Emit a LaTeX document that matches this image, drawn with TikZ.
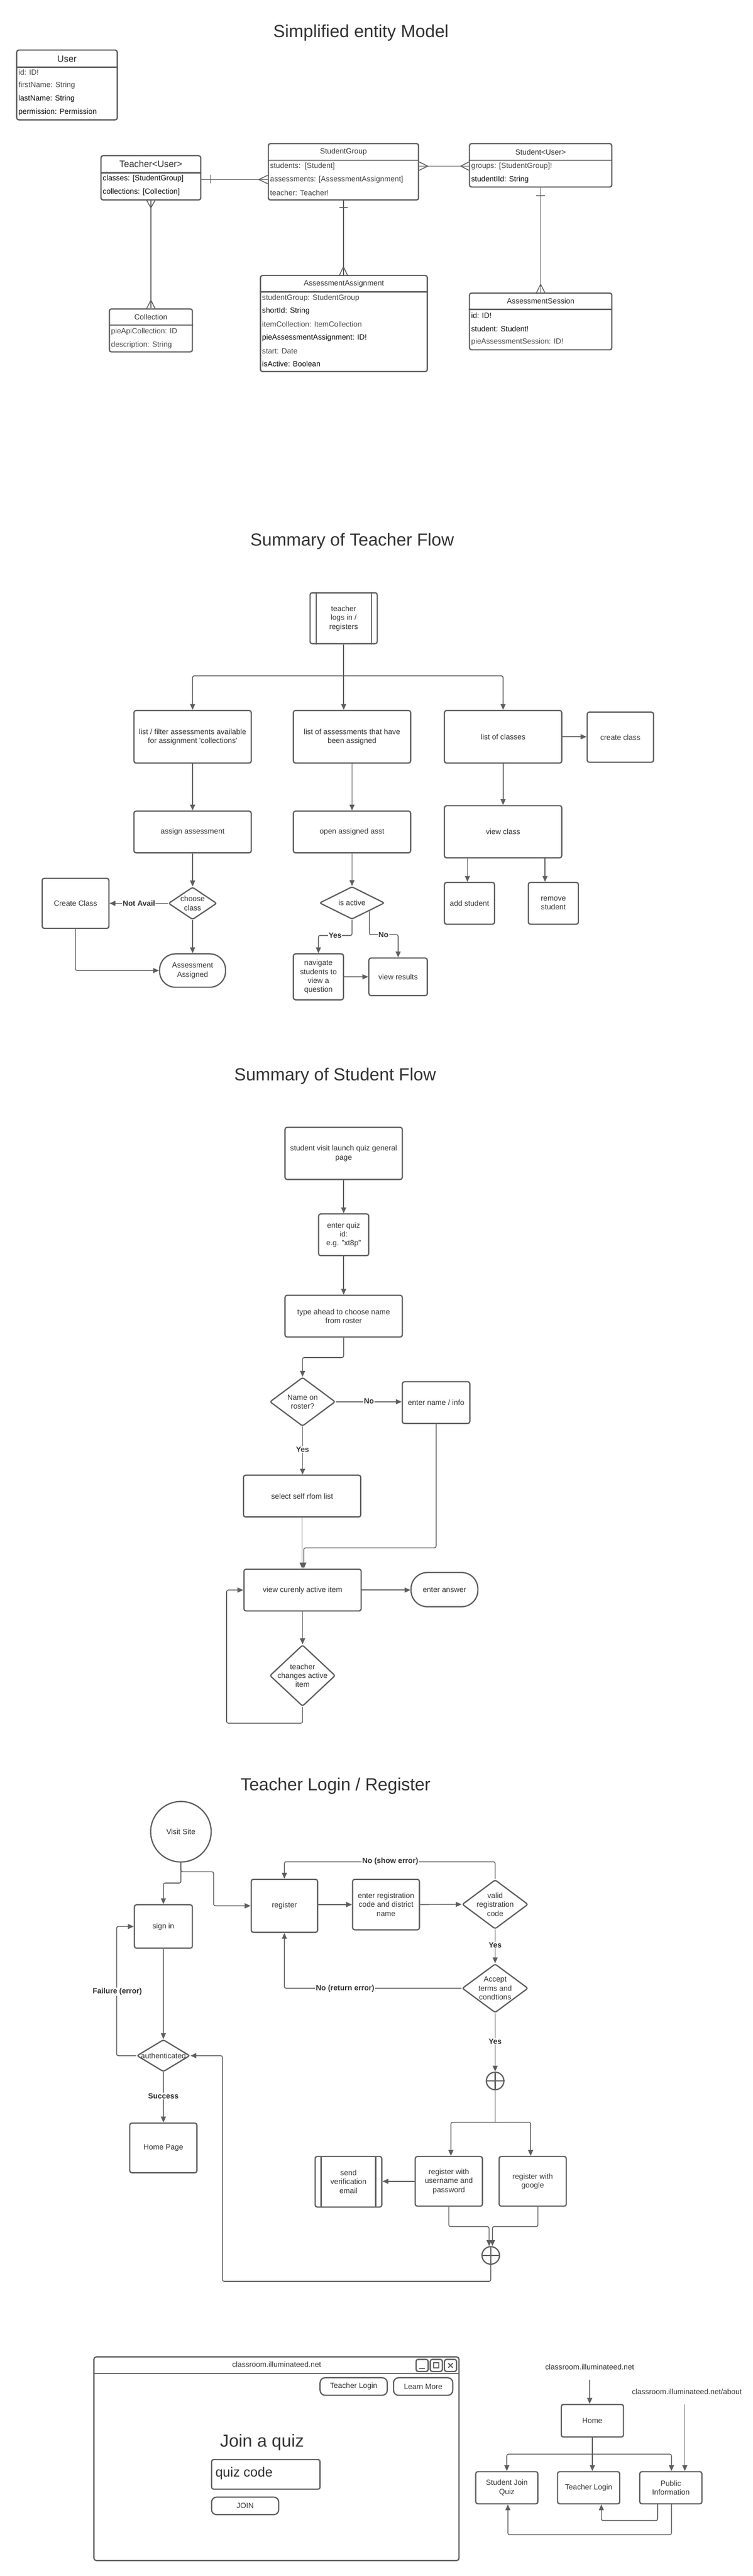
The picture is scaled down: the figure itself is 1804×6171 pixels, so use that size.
\documentclass[tikz,border=0pt]{standalone}
\usepackage{fontspec}
\setmainfont{Liberation Sans}
\usetikzlibrary{arrows.meta,shapes.geometric,calc}
\definecolor{lc}{HTML}{5E5E5E}
\definecolor{tc}{HTML}{333333}
\definecolor{tg}{HTML}{484848}
\definecolor{tk}{HTML}{0F0F0F}
\newcommand\fsz[2]{\fontsize{#1}{#2}\selectfont}
\tikzset{
 box/.style={draw=lc, line width=3, rounded corners=5, text=tc, font=\fsz{18}{21.5}, align=center, inner sep=3},
 dia/.style={draw=lc, line width=3, rounded corners=4, diamond, inner sep=0},
 txt/.style={text=tc, font=\fsz{18}{21.5}, align=center, inner sep=0},
 ttl/.style={text=tc, font=\fsz{42}{50}, inner sep=0, anchor=base},
 row/.style={anchor=west, inner sep=0, text=tg, font=\fsz{18}{21}},
 rowk/.style={row, text=tk},
 hdr/.style={inner sep=0, text=tc, font=\fsz{18}{21}},
 hdrL/.style={inner sep=0, text=tc, font=\fsz{22}{26}},
 sep/.style={draw=lc, line width=3},
 crow/.style={draw=lc, line width=2},
 conn/.style={draw=lc, line width=2, rounded corners=4},
 arr/.style={conn, -{Triangle[length=14,width=12]}},
 lbl/.style={fill=white, text=tc, font=\bfseries\fsz{18}{21}, inner sep=1.5},
}
\begin{document}
\begin{tikzpicture}[x=1pt,y=-1pt]
\fill[white] (0,0) rectangle (1804,6171);
\useasboundingbox (0,0) rectangle (1804,6171);

%% ================= Simplified entity Model =================
\node[ttl] (t1) at (865,89) {Simplified entity Model};

% User
\node[box, minimum width=241, minimum height=167] (user) at (160.5,203.5) {};
\draw[sep] (user.west |- 0,161) -- (user.east |- 0,161);
\node[hdrL] (userH) at (160.5,141) {User};
\node[row]  (user1) at (44,173) {id: ID!};
\node[row]  (user2) at (44,205) {firstName: String};
\node[rowk] (user3) at (44,237) {lastName: String};
\node[rowk] (user4) at (44,269) {permission: Permission};

% Teacher
\node[box, minimum width=239, minimum height=106] (teacher) at (361.5,426) {};
\draw[sep] (teacher.west |- 0,414) -- (teacher.east |- 0,414);
\node[hdrL] (teacherH) at (361.5,393) {Teacher<User>};
\node[rowk] (teacher1) at (246,428) {classes: [StudentGroup]};
\node[rowk] (teacher2) at (246,460) {collections: [Collection]};

% StudentGroup
\node[box, minimum width=360, minimum height=135] (sg) at (823,411.5) {};
\draw[sep] (sg.west |- 0,384) -- (sg.east |- 0,384);
\node[hdr] (sgH) at (823,364) {StudentGroup};
\node[row] (sg1) at (647,398) {students:\ \ [Student]};
\node[row] (sg2) at (647,430) {assessments: [AssessmentAssignment]};
\node[row] (sg3) at (647,462) {teacher: Teacher!};

% Student
\node[box, minimum width=341, minimum height=104] (st) at (1295.5,396) {};
\draw[sep] (st.west |- 0,384) -- (st.east |- 0,384);
\node[hdr] (stH) at (1295.5,364) {Student<User>};
\node[row]  (st1) at (1129,398) {groups: [StudentGroup]!};
\node[rowk] (st2) at (1129,430) {studentIId: String};

% Collection
\node[box, minimum width=199, minimum height=103] (coll) at (361.5,791.5) {};
\draw[sep] (coll.west |- 0,779) -- (coll.east |- 0,779);
\node[hdr] (collH) at (361.5,759) {Collection};
\node[row] (coll1) at (266,795) {pieApiCollection: ID};
\node[row] (coll2) at (266,826) {description: String};

% AssessmentAssignment
\node[box, minimum width=400, minimum height=230] (aa) at (824,775) {};
\draw[sep] (aa.west |- 0,699) -- (aa.east |- 0,699);
\node[hdr] (aaH) at (824,680) {AssessmentAssignment};
\node[row]  (aa1) at (628,714) {studentGroup: StudentGroup};
\node[rowk] (aa2) at (628,745) {shortId: String};
\node[row]  (aa3) at (628,777) {itemCollection: ItemCollection};
\node[rowk] (aa4) at (628,809) {pieAssessmentAssignment: ID!};
\node[row]  (aa5) at (628,841) {start: Date};
\node[rowk] (aa6) at (628,872) {isActive: Boolean};

% AssessmentSession
\node[box, minimum width=341, minimum height=136] (as) at (1295.5,770) {};
\draw[sep] (as.west |- 0,741) -- (as.east |- 0,741);
\node[hdr] (asH) at (1295.5,721) {AssessmentSession};
\node[rowk] (as1) at (1129,756) {id: ID!};
\node[rowk] (as2) at (1129,788) {student: Student!};
\node[row]  (as3) at (1129,819) {pieAssessmentSession: ID!};

% relations
\draw[crow] (teacher.east |- 0,430) -- (sg.west |- 0,430);
\draw[crow] (504,419) -- (504,439);
\draw[crow] (sg.west |- 0,420) -- (620,430) -- (sg.west |- 0,440);

\draw[crow] (sg.east |- 0,398) -- (st.west |- 0,398);
\draw[crow] (sg.east |- 0,388) -- (1025,398) -- (sg.east |- 0,408);
\draw[crow] (st.west |- 0,388) -- (1104,398) -- (st.west |- 0,408);

\draw[crow] (teacher.south) -- (coll.north);
\draw[crow] (351,479) -- (361.5,498) -- (372,479);
\draw[crow] (351,740) -- (361.5,719) -- (372,740);

\draw[crow] (sg.south) -- (sg.south |- aa.north);
\draw[crow] (813,497) -- (833,497);
\draw[crow] (813,660) -- (823,639) -- (833,660);

\draw[crow] (st.south) -- (as.north);
\draw[crow] (1285,469) -- (1306,469);
\draw[crow] (1285,702) -- (1295.5,681) -- (1306,702);

%% ================= Summary of Teacher Flow =================
\node[ttl] (t2) at (844,1308) {Summary of Teacher Flow};

\node[box, minimum width=161, minimum height=122] (tlog) at (823.5,1481) {teacher\\logs in /\\registers};
\draw[sep] ([xshift=16]tlog.north west) -- ([xshift=16]tlog.south west);
\draw[sep] ([xshift=-16]tlog.north east) -- ([xshift=-16]tlog.south east);

\node[box, minimum width=281, minimum height=126] (la) at (461.5,1765) {list / filter assessments available\\for assignment \textquotesingle collections\textquotesingle};
\node[box, minimum width=281, minimum height=126] (lb) at (843.5,1765) {list of assessments that have\\been assigned};
\node[box, minimum width=281, minimum height=126] (lcls) at (1205.5,1765) {list of classes};
\node[box, minimum width=159, minimum height=120] (cc) at (1486.5,1766) {create class};
\node[box, minimum width=281, minimum height=100] (asg) at (461.5,1993) {assign assessment};
\node[box, minimum width=281, minimum height=100] (opn) at (843.5,1993) {open assigned asst};
\node[box, minimum width=281, minimum height=125] (vc) at (1205.5,1992.5) {view class};
\node[dia, minimum width=116, minimum height=78] (ch) at (461.5,2164) {};
\node[txt] (chT) at (461.5,2164) {choose\\class};
\node[box, minimum width=160, minimum height=120] (cc2) at (181,2164) {Create Class};
\node[box, rounded corners=38, minimum width=158, minimum height=80] (aas) at (461.5,2325) {Assessment\\Assigned};
\node[dia, minimum width=156, minimum height=78] (ia) at (843.5,2163) {};
\node[txt] (iaT) at (843.5,2163) {is active};
\node[box, minimum width=120, minimum height=110] (nav) at (763,2340) {navigate\\students to\\view a\\question};
\node[box, minimum width=140, minimum height=90] (vr) at (954,2340) {view results};
\node[box, minimum width=120, minimum height=100] (ads) at (1125,2164) {add student};
\node[box, minimum width=120, minimum height=100] (rms) at (1326,2164) {remove\\student};

\coordinate (j1) at (823.5,1619);
\draw[conn] (tlog.south) -- (j1);
\draw[arr] (j1) -| (la.north);
\draw[arr] (j1) -- (j1 |- lb.north);
\draw[arr] (j1) -| (lcls.north);
\draw[arr] (lcls.east) -- (lcls.east -| cc.west);
\draw[arr] (la.south) -- (asg.north);
\draw[arr] (lb.south) -- (opn.north);
\draw[arr] (lcls.south) -- (vc.north);
\draw[arr] (asg.south) -- (ch.north);
\draw[arr] (ch.west) -- (cc2.east);
\node[lbl] (na) at (333,2164) {Not Avail};
\draw[arr] (ch.south) -- (aas.north);
\draw[arr] (cc2.south) |- (aas.west);
\draw[arr] (opn.south) -- (ia.north);
\draw[arr] (ia.south) |- (nav.north |- 0,2241) -- (nav.north);
\node[lbl] (yT) at (803,2241) {Yes};
\coordinate (nk) at (885,2183.5);
\draw[arr] (nk) |- (vr.north |- 0,2239) -- (vr.north);
\node[lbl] (nT) at (919,2239) {No};
\draw[arr] (nav.east) -- (vr.west);
\draw[arr] (vc.south -| 1120,0) -- (ads.north -| 1120,0);
\draw[arr] (vc.south -| 1306,0) -- (rms.north -| 1306,0);

%% ================= Summary of Student Flow =================
\node[ttl] (t3) at (803,2589) {Summary of Student Flow};

\node[box, minimum width=281, minimum height=125] (s1) at (823.5,2763) {student visit launch quiz general\\page};
\node[box, minimum width=120, minimum height=100] (s2) at (823.5,2958) {enter quiz\\id:\\e.g. "xt8p"};
\node[box, minimum width=281, minimum height=100] (s3) at (823.5,3153) {type ahead to choose name\\from roster};
\node[dia, minimum width=157, minimum height=117] (d1) at (725,3358) {};
\node[txt] (d1T) at (725,3358) {Name on\\roster?};
\node[box, minimum width=162, minimum height=100] (s4) at (1045,3360) {enter name / info};
\node[box, minimum width=281, minimum height=100] (s5) at (724,3584) {select self rfom list};
\node[box, minimum width=281, minimum height=100] (s6) at (725,3809) {view curenly active item};
\node[box, rounded corners=39, minimum width=160, minimum height=82] (s7) at (1065,3808) {enter answer};
\node[dia, minimum width=157, minimum height=147] (d2) at (725,4014) {};
\node[txt] (d2T) at (725,4014) {teacher\\changes active\\item};

\draw[arr] (s1.south) -- (s2.north);
\draw[arr] (s2.south) -- (s3.north);
\draw[arr] (s3.south) |- (d1.north |- 0,3252) -- (d1.north);
\draw[arr] (d1.east) -- (d1.east -| s4.west);
\node[lbl] (noS) at (884,3357) {No};
\draw[arr] (d1.south) -- (d1.south |- s5.north);
\node[lbl] (yesS) at (725,3472) {Yes};
\draw[arr] (s5.south) -- (s5.south |- s6.north);
\draw[arr] (s4.south) |- ([xshift=3]s6.north |- 0,3708) -- ([xshift=3]s6.north);
\draw[arr] (s6.east) -- (s6.east -| s7.west);
\draw[arr] (s6.south) -- (d2.north);
\draw[arr] (d2.south) |- (543,4128) |- (s6.west);

%% ================= Teacher Login / Register =================
\node[ttl] (t4) at (804,4290) {Teacher Login / Register};

\node[box, circle, minimum size=145] (visit) at (433.5,4388) {Visit Site};
\node[box, minimum width=139, minimum height=104] (signin) at (391.5,4615) {sign in};
\node[box, minimum width=159, minimum height=127] (register) at (681.5,4565.5) {register};
\node[box, minimum width=160, minimum height=121] (enterreg) at (925,4562.5) {enter registration\\code and district\\name};
\node[dia, minimum width=158, minimum height=118] (valid) at (1186.5,4562) {};
\node[txt] (validT) at (1186.5,4562) {valid\\registration\\code};
\node[dia, minimum width=158, minimum height=117] (accept) at (1186.5,4763) {};
\node[txt] (acceptT) at (1186.5,4763) {Accept\\terms and\\condtions};
\node[dia, minimum width=127, minimum height=77] (auth) at (391.5,4924.5) {};
\node[txt] (authT) at (391.5,4924.5) {authenticated};
\node[box, minimum width=161, minimum height=119] (home) at (391.5,5145.5) {Home Page};
\node[draw=lc, line width=3, circle, minimum size=42, inner sep=0] (p1) at (1186.5,4985) {};
\draw[sep] (p1.north) -- (p1.south); \draw[sep] (p1.west) -- (p1.east);
\node[box, minimum width=161, minimum height=119] (reguser) at (1075.5,5225.5) {register with\\username and\\password};
\node[box, minimum width=161, minimum height=119] (reggoogle) at (1276.5,5225.5) {register with\\google};
\node[box, minimum width=160, minimum height=121] (sendemail) at (835,5226.5) {send\\verification\\email};
\draw[sep] ([xshift=16]sendemail.north west) -- ([xshift=16]sendemail.south west);
\draw[sep] ([xshift=-16]sendemail.north east) -- ([xshift=-16]sendemail.south east);
\node[draw=lc, line width=3, circle, minimum size=42, inner sep=0] (p2) at (1176,5403) {};
\draw[sep] (p2.north) -- (p2.south); \draw[sep] (p2.west) -- (p2.east);

\draw[arr] (visit.south) |- (signin.north |- 0,4511) -- (signin.north);
\draw[arr] (visit.south) |- (512,4484) |- (register.west);
\draw[arr] (register.east |- enterreg.west) -- (enterreg.west);
\draw[arr] (enterreg.east) -- (valid.west);
\draw[arr] (valid.north) |- (register.north |- 0,4460) -- (register.north);
\node[lbl] (nse) at (935,4459) {No (show error)};
\draw[arr] (valid.south) -- (accept.north);
\node[lbl] (yv) at (1186.5,4660) {Yes};
\draw[arr] (accept.west) -| (register.south);
\node[lbl] (nre) at (827,4763) {No (return error)};
\draw[arr] (accept.south) -- (p1.north);
\node[lbl] (ya) at (1186.5,4890) {Yes};
\coordinate (pj) at (1186.5,5084);
\draw[conn] (p1.south) -- (pj);
\draw[arr] (pj) -| ([xshift=5]reguser.north);
\draw[arr] (pj) -| ([xshift=-5]reggoogle.north);
\draw[arr] (reguser.west) -- (reguser.west -| sendemail.east);
\draw[arr] (reguser.south) |- ([xshift=-4]p2.north |- 0,5334) -- ([xshift=-4]p2.north);
\draw[arr] ([xshift=12.5]reggoogle.south) |- ([xshift=4]p2.north |- 0,5334) -- ([xshift=4]p2.north);
\draw[arr] (p2.south) |- (533,5465) |- (auth.east);
\draw[arr] (signin.south) -- (auth.north);
\draw[arr] (auth.west) -| ([xshift=-41]signin.west) -- (signin.west);
\node[lbl] (fail) at (281,4771) {Failure (error)};
\draw[arr] (auth.south) -- (home.north);
\node[lbl] (succ) at (391.5,5021) {Success};

%% ================= Wireframe =================
\node[box, rounded corners=6, minimum width=875, minimum height=488] (win) at (662.5,5890) {};
\draw[sep] (win.west |- 0,5686) -- (win.east |- 0,5686);
\node[txt] (url) at (663,5664) {classroom.illuminateed.net};
\node[box, minimum size=29, rounded corners=5, inner sep=0] (bmin) at (1011.5,5666.5) {};
\draw[draw=lc, line width=2.5] (1005,5674) -- (1018,5674);
\node[box, minimum size=29, rounded corners=5, inner sep=0] (bmax) at (1045.5,5666.5) {};
\draw[draw=lc, line width=2.5] (1039.5,5660.5) rectangle (1051.5,5672.5);
\node[box, minimum size=29, rounded corners=5, inner sep=0] (bx) at (1079.5,5666.5) {};
\draw[draw=lc, line width=2.5] (1074,5661) -- (1085,5672) (1074,5672) -- (1085,5661);
\node[box, rounded corners=12, minimum width=161, minimum height=42] (btl) at (847.5,5717) {Teacher Login};
\node[box, rounded corners=12, minimum width=142, minimum height=42] (blm) at (1014,5717) {Learn More};
\node[txt, font=\fsz{42}{50}] (jq) at (628,5851) {Join a quiz};
\node[box, rounded corners=5, minimum width=260, minimum height=71] (qc) at (637,5927.5) {};
\node[txt, anchor=west, font=\fsz{32}{38}] (qcT) at (516,5925) {quiz code};
\node[box, rounded corners=12, minimum width=161, minimum height=42] (join) at (587.5,6003) {JOIN};

\node[txt] (u1) at (1413,5670) {classroom.illuminateed.net};
\node[txt] (u2) at (1646,5729) {classroom.illuminateed.net/about};
\coordinate (u1a) at (1413,5701);
\coordinate (u2a) at (1641,5760);
\node[box, minimum width=149, minimum height=78] (hm) at (1419.5,5799) {Home};
\node[box, minimum width=149, minimum height=77] (sjq) at (1214.5,5959.5) {Student Join\\Quiz};
\node[box, minimum width=149, minimum height=77] (tl2) at (1410.5,5959.5) {Teacher Login};
\node[box, minimum width=149, minimum height=77] (pub) at (1607.5,5959.5) {Public\\Information};
\draw[arr] (u1a) -- (u1a |- hm.north);
\draw[arr] (u2a) -- (u2a |- pub.north);
\coordinate (hj) at (1419.5,5879);
\draw[conn] (hm.south) -- (hj);
\draw[arr] (hj) -| (sjq.north);
\draw[arr] (hj) -- (hj |- tl2.north);
\draw[arr] (hj) -| ([xshift=1.5]pub.north);
\draw[arr] ([xshift=-31.5]pub.south) |- ([xshift=30.5]tl2.south |- 0,6038) -- ([xshift=30.5]tl2.south);
\draw[arr] ([xshift=1.5]pub.south) |- ([xshift=2.5]sjq.south |- 0,6072) -- ([xshift=2.5]sjq.south);
\end{tikzpicture}
\end{document}
